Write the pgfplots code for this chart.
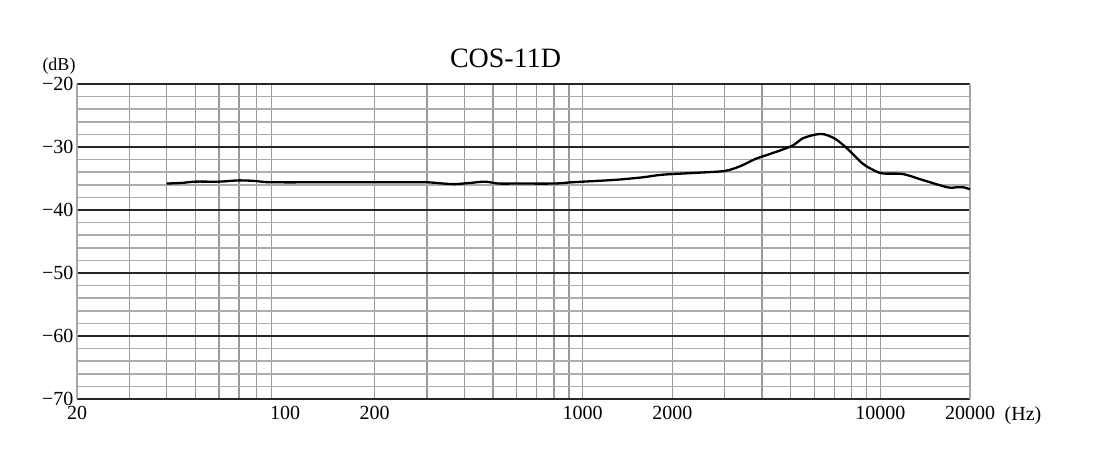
\documentclass[border=0pt]{standalone}
\usepackage{fontspec}
\setmainfont{Liberation Serif}
\usepackage{pgfplots}
\pgfplotsset{compat=1.18}
\newcommand\tk{\fontsize{20}{23}\selectfont}
\begin{document}
\begin{tikzpicture}
\begin{axis}[
  scale only axis,
  width=893pt, height=315pt,
  xmode=log, xmin=20, xmax=20000,
  ymin=-70, ymax=-20,
  xtick={20,100,200,1000,2000,10000,20000},
  xticklabels={20,100,200,1000,2000,10000,20000},
  minor xtick={30,40,50,60,70,80,90,200,300,400,500,600,700,800,900,1000,2000,3000,4000,5000,6000,7000,8000,9000,10000},
  ytick={-70,-60,-50,-40,-30,-20},
  yticklabels={−70,−60,−50,−40,−30,−20},
  minor y tick num=4,
  xmajorgrids=false, xminorgrids=true,
  ymajorgrids=true, yminorgrids=true,
  major y grid style={black!85, line width=1.3pt},
  minor y grid style={gray!65, line width=1.5pt},
  minor x grid style={gray!80, line width=1.3pt},
  tick style={draw=none},
  separate axis lines,
  x axis line style={black!85, line width=1.3pt},
  y axis line style={gray!70, line width=1.4pt},
  ticklabel style={font=\tk},
  xticklabel style={yshift=-4pt},
]
\addplot[black, line width=2.3pt, smooth, tension=0.5] coordinates {
  (40,-35.8) (45,-35.7) (50,-35.5) (60,-35.5) (70,-35.3) (80,-35.4) (90,-35.6)
  (150,-35.6) (250,-35.6) (300,-35.6) (340,-35.8) (370,-35.9) (420,-35.7)
  (470,-35.5) (520,-35.8) (600,-35.8) (800,-35.8) (920,-35.6) (1100,-35.4)
  (1300,-35.2) (1600,-34.8) (1850,-34.4) (2400,-34.1) (3000,-33.8) (3400,-33.0)
  (3800,-31.9) (4200,-31.2) (4700,-30.4) (5100,-29.7) (5500,-28.6) (6100,-28.0)
  (6500,-28.0) (7100,-28.8) (7800,-30.4) (8700,-32.6) (9500,-33.7) (10200,-34.2)
  (11900,-34.3) (14000,-35.3) (16800,-36.4) (18000,-36.4) (19000,-36.4) (20000,-36.7)
};
\end{axis}
\node[font=\fontsize{18}{20}\selectfont, inner sep=0pt] at ([xshift=-18pt,yshift=18pt]current axis.north west) {(dB)};
\node[font=\tk] at ([xshift=53pt,yshift=-17pt]current axis.south east) {(Hz)};
\node[font=\fontsize{28}{32}\selectfont] at ([xshift=-18pt,yshift=26pt]current axis.north) {COS-11D};
\path ([xshift=-77pt,yshift=-74pt]current axis.south west) rectangle ([xshift=124pt,yshift=84pt]current axis.north east);
\end{tikzpicture}
\end{document}
